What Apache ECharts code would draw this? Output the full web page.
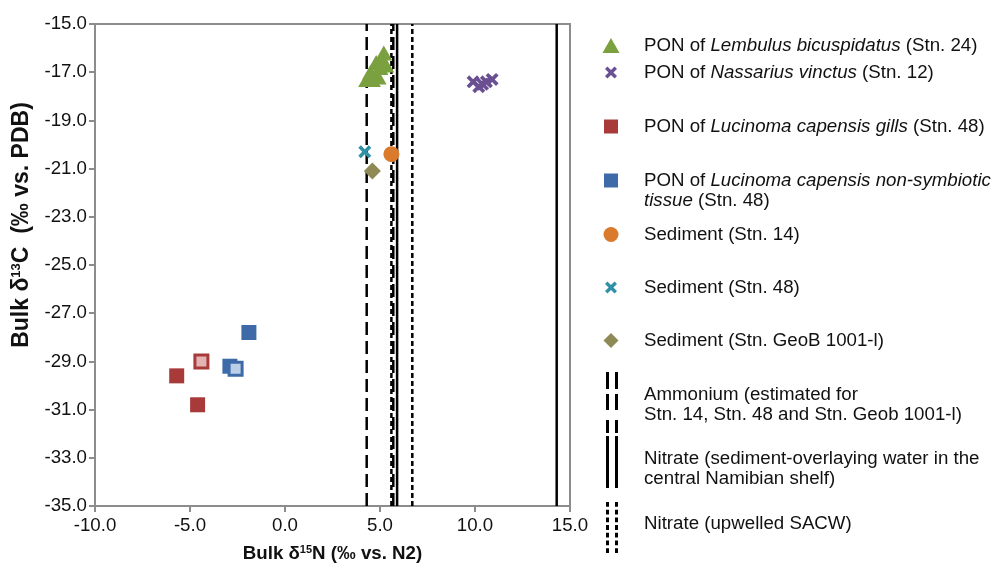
<!DOCTYPE html>
<html>
<head>
<meta charset="utf-8">
<script src="https://cdn.jsdelivr.net/npm/echarts@6/dist/echarts.min.js"></script>
<style>
  html, body { margin: 0; padding: 0; background: #fff; }
  #chart { width: 999px; height: 568px; }
</style>
</head>
<body>
<div id="chart"></div>
<script>
// axis ranges (tick labels are -10.0 ... 15.0 and -35.0 ... -15.0)
const xMin = -10, xMax = 15, xStep = 5;
const yMin = -35, yMax = -15, yStep = 2;

// [d15N, d13C]
const lembulus = [[4.3, -17.3], [4.6, -17.3], [4.9, -17.2], [4.5, -17.0], [4.8, -16.6], [5.0, -16.8], [5.2, -16.2], [5.3, -16.7], [5.1, -16.5]];
const nassarius = [[9.9, -17.4], [10.2, -17.6], [10.4, -17.5], [10.6, -17.4], [10.9, -17.3]];
const gills = [[-5.7, -29.6], [-4.6, -30.8]];
const gillsLight = [[-4.4, -29.0]];
const tissue = [[-1.9, -27.8], [-2.9, -29.2]];
const tissueLight = [[-2.6, -29.3]];
const sed14 = [[5.6, -20.4]];
const sed48 = [[4.2, -20.3]];
const sedGeoB = [[4.6, -21.1]];

// vertical reference lines (d15N)
const ammonium = [4.3, 5.7];
const nitrateShelf = [5.9, 14.3];
const nitrateSacw = [5.6, 6.7];

const names = {
    lembulus: 'PON of Lembulus bicuspidatus (Stn. 24)',
    nassarius: 'PON of Nassarius vinctus (Stn. 12)',
    gills: 'PON of Lucinoma capensis gills (Stn. 48)',
    tissue: 'PON of Lucinoma capensis non-symbiotic tissue (Stn. 48)',
    sed14: 'Sediment (Stn. 14)',
    sed48: 'Sediment (Stn. 48)',
    sedGeoB: 'Sediment (Stn. GeoB 1001-l)',
    ammonium: 'Ammonium (estimated for Stn. 14, Stn. 48 and Stn. Geob 1001-l)',
    nitrateShelf: 'Nitrate (sediment-overlaying water in the central Namibian shelf)',
    nitrateSacw: 'Nitrate (upwelled SACW)'
};

const labels = {
    lembulus: '{n|PON of }{i|Lembulus bicuspidatus}{n| (Stn. 24)}',
    nassarius: '{n|PON of }{i|Nassarius vinctus}{n| (Stn. 12)}',
    gills: '{n|PON of }{i|Lucinoma capensis gills}{n| (Stn. 48)}',
    tissue: '{n|PON of }{i|Lucinoma capensis non-symbiotic}\n{i|tissue}{n| (Stn. 48)}',
    sed14: '{n|Sediment (Stn. 14)}',
    sed48: '{n|Sediment (Stn. 48)}',
    sedGeoB: '{n|Sediment (Stn. GeoB 1001-l)}',
    ammonium: '{n|Ammonium (estimated for}\n{n|Stn. 14, Stn. 48 and Stn. Geob 1001-l)}',
    nitrateShelf: '{n|Nitrate (sediment-overlaying water in the}\n{n|central Namibian shelf)}',
    nitrateSacw: '{n|Nitrate (upwelled SACW)}'
};

const FONT = 'Liberation Sans, Arial, sans-serif';
const FS = 18.7;
const TEXT_X = 644;

const colors = {
    green: '#7aa03f',
    purple: '#6a4f92',
    red: '#a83b3a',
    redLight: '#e3b4b3',
    blue: '#3e6aa8',
    blueLight: '#bccfe8',
    orange: '#d97a2d',
    teal: '#3090a6',
    olive: '#8f8a55'
};

const xPath = 'path://M0,2 L2,0 L5,3 L8,0 L10,2 L7,5 L10,8 L8,10 L5,7 L2,10 L0,8 L3,5 Z';
const triPath = 'path://M5,0 L10,9 L0,9 Z';
const sqPath = 'path://M0,0 L10,0 L10,10 L0,10 Z';
const circPath = 'path://M0,5 A5,5 0 1 1 10,5 A5,5 0 1 1 0,5 Z';
const diaPath = 'path://M5,0 L10,5 L5,10 L0,5 Z';

// legend icons for the double vertical lines
const ammoniumIcon = 'path://M0,0h3v17h-3z M0,22h3v16h-3z M0,48h3v13h-3z M9,0h3v17h-3z M9,22h3v16h-3z M9,48h3v13h-3z';
const shelfIcon = 'path://M0,0h3v52h-3z M9,0h3v52h-3z';
let sacwIcon = 'path://';
for (let y = 0; y < 51; y += 8) {
    sacwIcon += 'M0,' + y + 'h3v5h-3z M9,' + y + 'h3v5h-3z ';
}

const rich = {
    n: { fontFamily: FONT, fontSize: FS, color: '#111', lineHeight: 20 },
    i: { fontFamily: FONT, fontSize: FS, color: '#111', lineHeight: 20, fontStyle: 'italic' }
};

// cx: icon centre, w/h: icon size, padTop/padBottom nudge the text against the icon
function makeLegend(key, icon, cx, w, h, top, padTop, padBottom) {
    const left = cx - w / 2;
    return {
        data: [names[key]],
        left: left,
        top: top,
        padding: 0,
        orient: 'vertical',
        icon: icon,
        itemWidth: w,
        itemHeight: h,
        symbolKeepAspect: false,
        selectedMode: false,
        itemStyle: { borderWidth: 0 },
        lineStyle: { width: 0 },
        formatter: function () { return labels[key]; },
        textStyle: {
            rich: rich,
            padding: [padTop || 0, 0, padBottom || 0, TEXT_X - (left + w + 5)]
        }
    };
}

function scatter(key, data, symbol, size, color, extraStyle) {
    return {
        name: names[key],
        type: 'scatter',
        data: data,
        symbol: symbol,
        symbolSize: size,
        z: 3,
        itemStyle: Object.assign({ color: color, opacity: 1 }, extraStyle || {})
    };
}

function vline(key, x, dash) {
    return {
        name: names[key],
        type: 'line',
        data: [[x, yMin], [x, yMax]],
        symbol: 'none',
        z: 2,
        color: '#000',
        lineStyle: { color: '#000', width: 2.5, type: dash },
        silent: true
    };
}

const series = [];
ammonium.forEach(x => series.push(vline('ammonium', x, [13, 6])));
nitrateShelf.forEach(x => series.push(vline('nitrateShelf', x, 'solid')));
nitrateSacw.forEach(x => series.push(vline('nitrateSacw', x, [5, 3])));
series.push(scatter('lembulus', lembulus, 'triangle', [17, 15], colors.green));
series.push(scatter('nassarius', nassarius, xPath, 13, colors.purple));
series.push(scatter('gills', gills, 'rect', 15, colors.red));
series.push(scatter('gills', gillsLight, 'rect', 13, colors.redLight, { borderColor: colors.red, borderWidth: 3 }));
series.push(scatter('tissue', tissue, 'rect', 15, colors.blue));
series.push(scatter('tissue', tissueLight, 'rect', 13, colors.blueLight, { borderColor: colors.blue, borderWidth: 3 }));
series.push(scatter('sed14', sed14, 'circle', 16, colors.orange));
series.push(scatter('sed48', sed48, xPath, 13, colors.teal));
series.push(scatter('sedGeoB', sedGeoB, 'diamond', 17, colors.olive));

const option = {
    backgroundColor: '#fff',
    animation: false,
    grid: {
        left: 95,
        right: 429,
        top: 24,
        bottom: 62,
        show: true,
        borderColor: '#8c8c8c',
        borderWidth: 2
    },
    legend: [
        makeLegend('lembulus', triPath, 611, 17, 15, 36),
        makeLegend('nassarius', xPath, 611, 12, 12, 63),
        makeLegend('gills', sqPath, 611, 14, 14, 117),
        makeLegend('tissue', sqPath, 611, 14, 14, 171, 20, 0),
        makeLegend('sed14', circPath, 611, 15, 15, 225),
        makeLegend('sed48', xPath, 611, 12, 12, 278),
        makeLegend('sedGeoB', diaPath, 611, 15, 15, 331),
        makeLegend('ammonium', ammoniumIcon, 612, 12, 61, 372, 5, 0),
        makeLegend('nitrateShelf', shelfIcon, 612, 12, 52, 436, 14, 0),
        makeLegend('nitrateSacw', sacwIcon, 612, 12, 51, 502, 0, 8)
    ],
    xAxis: {
        type: 'value',
        min: xMin,
        max: xMax,
        interval: xStep,
        name: '{b|Bulk δ}{s|15}{b|N (‰ vs. N2)}',
        nameLocation: 'middle',
        nameGap: 38,
        nameTextStyle: {
            rich: {
                b: { fontFamily: FONT, fontSize: FS, fontWeight: 'bold', color: '#111' },
                s: { fontFamily: FONT, fontSize: 11, fontWeight: 'bold', color: '#111', verticalAlign: 'top' }
            }
        },
        splitLine: { show: false },
        axisLine: { onZero: false, lineStyle: { color: '#8c8c8c', width: 2 } },
        axisTick: { show: true, length: 6, lineStyle: { color: '#8c8c8c', width: 2 } },
        axisLabel: {
            fontFamily: FONT,
            fontSize: FS,
            color: '#111',
            margin: 10,
            formatter: v => v.toFixed(1)
        }
    },
    yAxis: {
        type: 'value',
        min: yMin,
        max: yMax,
        interval: yStep,
        name: '{b|Bulk δ}{s|13}{b|C  (‰ vs. PDB)}',
        nameLocation: 'middle',
        nameGap: 62,
        nameTextStyle: {
            padding: [0, 0, 0, 80],
            rich: {
                b: { fontFamily: FONT, fontSize: 23, fontWeight: 'bold', color: '#111' },
                s: { fontFamily: FONT, fontSize: 13, fontWeight: 'bold', color: '#111', verticalAlign: 'top' }
            }
        },
        splitLine: { show: false },
        axisLine: { onZero: false, lineStyle: { color: '#8c8c8c', width: 2 } },
        axisTick: { show: true, length: 6, lineStyle: { color: '#8c8c8c', width: 2 } },
        axisLabel: {
            fontFamily: FONT,
            fontSize: FS,
            color: '#111',
            margin: 8,
            formatter: v => v.toFixed(1)
        }
    },
    series: series
};

const myChart = echarts.init(document.getElementById('chart'));
myChart.setOption(option);
</script>
</body>
</html>
